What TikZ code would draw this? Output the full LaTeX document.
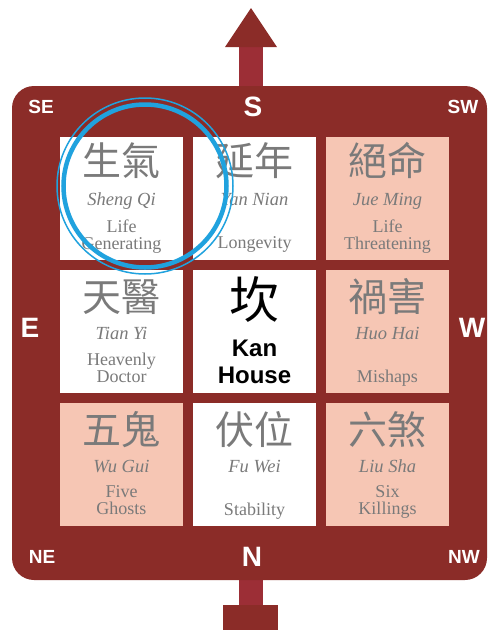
\documentclass[tikz,border=0pt]{standalone}
\usepackage{fontspec}
\setmainfont{Liberation Serif}
\newfontfamily\cjk{Noto Sans CJK TC}
\newfontfamily\dirsans{Liberation Sans}
\usetikzlibrary{calc, positioning}
\usepackage{xcolor}
\definecolor{framered}{RGB}{139, 44, 40}
\definecolor{shaftred}{RGB}{156, 46, 54}
\definecolor{cellpink}{RGB}{246, 198, 180}
\definecolor{textgray}{RGB}{122, 122, 122}
\definecolor{ringblue}{RGB}{32, 162, 222}

\tikzset{
  cell/.style={minimum width=123pt, minimum height=123pt, inner sep=0pt},
  hanzi/.style={text=textgray, font=\cjk\fontsize{39}{39}\selectfont, inner sep=0pt},
  pinyin/.style={text=textgray, font=\itshape\fontsize{18.5}{18.5}\selectfont, inner sep=0pt, anchor=base},
  meaning/.style={text=textgray, font=\fontsize{18}{17}\selectfont, align=center, inner sep=0pt, anchor=north},
  compass/.style={text=white, font=\dirsans\bfseries\fontsize{28}{28}\selectfont, inner sep=0pt},
  corner/.style={text=white, font=\dirsans\bfseries\fontsize{19}{19}\selectfont, inner sep=0pt},
}

\begin{document}
\begin{tikzpicture}[x=1pt, y=-1pt]
    \useasboundingbox (0,0) rectangle (490,630);

    % arrow to the south, stem to the north
    \fill[shaftred] (239,40) rectangle (263,92);
    \fill[framered] (251,8) -- (277,47) -- (225,47) -- cycle;
    \fill[shaftred] (239,575) rectangle (263,607);
    \fill[framered] (223,605) rectangle (278,630);
    \fill[framered, rounded corners=22pt] (12,86) rectangle (487,580);

    % the nine houses
    \node[cell, fill=white]    (sq) at (121.5,198.5) {};
    \node[cell, fill=white]    (yn) at (254.5,198.5) {};
    \node[cell, fill=cellpink] (jm) at (387.5,198.5) {};
    \node[cell, fill=white]    (ty) at (121.5,331.5) {};
    \node[cell, fill=white]    (kan) at (254.5,331.5) {};
    \node[cell, fill=cellpink] (hh) at (387.5,331.5) {};
    \node[cell, fill=cellpink] (wg) at (121.5,464.5) {};
    \node[cell, fill=white]    (fw) at (254.5,464.5) {};
    \node[cell, fill=cellpink] (ls) at (387.5,464.5) {};

    \node[hanzi] (sqH) at ($(sq.north)+(0,24)$) {生氣};
    \node[pinyin] (sqP) at ($(sq.north)+(0,69)$) {Sheng Qi};
    \node[meaning] (sqM) at ($(sq.north)+(0,83)$) {Life\\Generating};

    \node[hanzi] (ynH) at ($(yn.north)+(0,24)$) {延年};
    \node[pinyin] (ynP) at ($(yn.north)+(0,69)$) {Yan Nian};
    \node[meaning] (ynM) at ($(yn.north)+(0,100)$) {Longevity};

    \node[hanzi] (jmH) at ($(jm.north)+(0,24)$) {絕命};
    \node[pinyin] (jmP) at ($(jm.north)+(0,69)$) {Jue Ming};
    \node[meaning] (jmM) at ($(jm.north)+(0,83)$) {Life\\Threatening};

    \node[hanzi] (tyH) at ($(ty.north)+(0,27)$) {天醫};
    \node[pinyin] (tyP) at ($(ty.north)+(0,70)$) {Tian Yi};
    \node[meaning] (tyM) at ($(ty.north)+(0,83)$) {Heavenly\\Doctor};

    \node[hanzi, text=black, font=\cjk\fontsize{50}{50}\selectfont] (kanH) at ($(kan.north)+(0,30)$) {坎};
    \node[meaning, text=black, font=\dirsans\bfseries\fontsize{24}{27}\selectfont] (kanM) at ($(kan.north)+(0,70)$) {Kan\\House};

    \node[hanzi] (hhH) at ($(hh.north)+(0,27)$) {禍害};
    \node[pinyin] (hhP) at ($(hh.north)+(0,70)$) {Huo Hai};
    \node[meaning] (hhM) at ($(hh.north)+(0,100)$) {Mishaps};

    \node[hanzi] (wgH) at ($(wg.north)+(0,27)$) {五鬼};
    \node[pinyin] (wgP) at ($(wg.north)+(0,70)$) {Wu Gui};
    \node[meaning] (wgM) at ($(wg.north)+(0,83)$) {Five\\Ghosts};

    \node[hanzi] (fwH) at ($(fw.north)+(0,27)$) {伏位};
    \node[pinyin] (fwP) at ($(fw.north)+(0,70)$) {Fu Wei};
    \node[meaning] (fwM) at ($(fw.north)+(0,100)$) {Stability};

    \node[hanzi] (lsH) at ($(ls.north)+(0,27)$) {六煞};
    \node[pinyin] (lsP) at ($(ls.north)+(0,70)$) {Liu Sha};
    \node[meaning] (lsM) at ($(ls.north)+(0,83)$) {Six\\Killings};

    % directions
    \node[corner]  (se) at (41,107) {SE};
    \node[compass] (s)  at (253,107) {S};
    \node[corner]  (sw) at (463,107) {SW};
    \node[compass] (e)  at (30,328) {E};
    \node[compass] (w)  at (472,328) {W};
    \node[corner]  (ne) at (42,557) {NE};
    \node[compass] (n)  at (252,557) {N};
    \node[corner]  (nw) at (464,557) {NW};

    % highlight ring
    \draw[ringblue, line width=4.5pt] (145,186) circle (81.5);
    \draw[ringblue, line width=1.5pt] (145,186) circle (88);
\end{tikzpicture}
\end{document}
